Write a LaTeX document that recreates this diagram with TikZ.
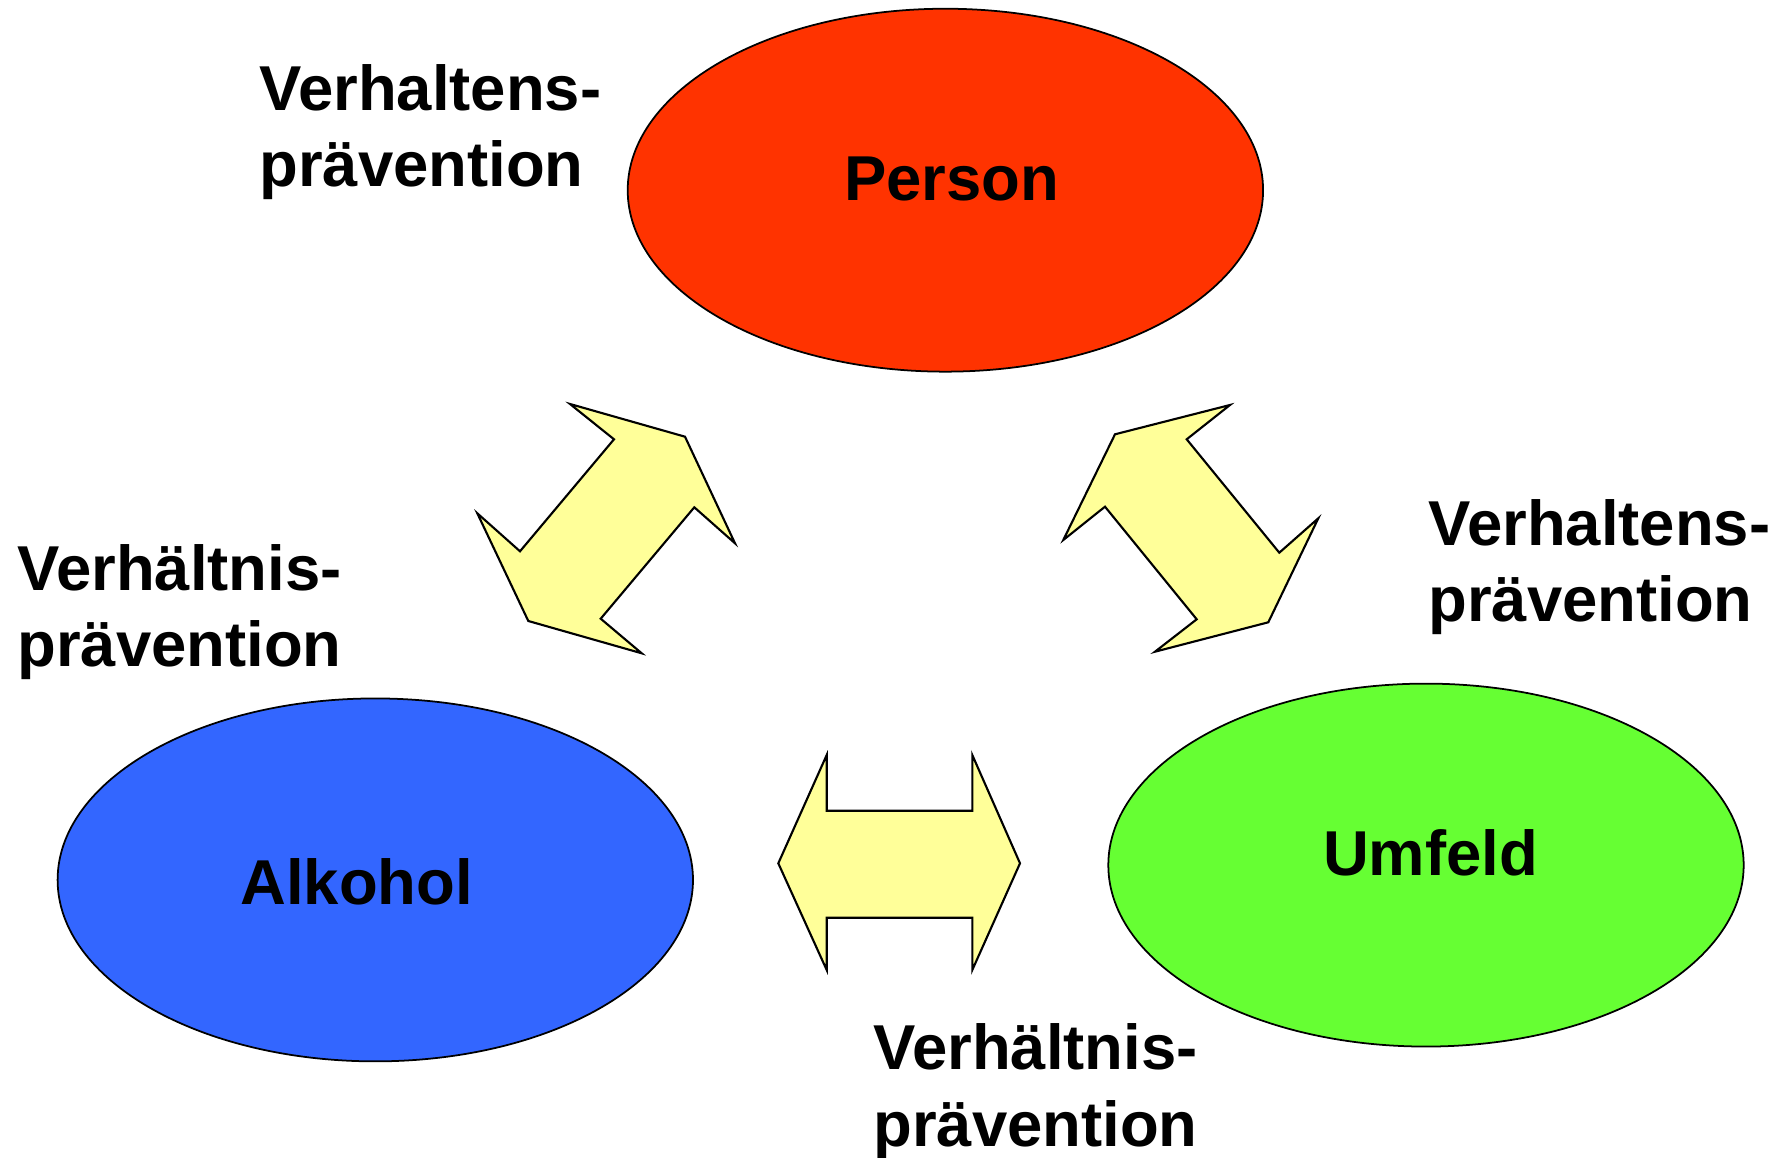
\documentclass[tikz,border=0pt]{standalone}
\usepackage{fontspec}
\setmainfont{Liberation Sans}
\usetikzlibrary{shapes.geometric}
\definecolor{personred}{HTML}{FF3300}
\definecolor{alkoholblue}{HTML}{3366FF}
\definecolor{umfeldgreen}{HTML}{66FF33}
\definecolor{arrowyellow}{HTML}{FFFF99}
\begin{document}
\begin{tikzpicture}[x=0.02cm, y=-0.02cm,
	blob/.style={ellipse, draw, line width=1pt, minimum width=12.71cm, minimum height=7.26cm, inner sep=0pt},
	word/.style={font=\fontsize{36.1}{43.8}\selectfont\bfseries, inner sep=0pt},
	caption/.style={word, align=left, anchor=base west},
	block/.style={draw, fill=arrowyellow, line width=1.2pt, line join=miter}]
	\useasboundingbox (0,0) rectangle (1786,1158);
	
	% Ellipses
	\node[blob, fill=personred] (person) at (945.4,190.2) {};
	\node[blob, fill=alkoholblue] (alkohol) at (375.3,879.9) {};
	\node[blob, fill=umfeldgreen] (umfeld) at (1426,865.1) {};
	\node[word, anchor=base] (personname) at (951.7,200.7) {Person};
	\node[word, anchor=base] (alkoholname) at (356.7,904.3) {Alkohol};
	\node[word, anchor=base] (umfeldname) at (1430.5,875) {Umfeld};
	
	% Labels (anchored at the baseline of the second line)
	\node[caption] (toplabel) at (259,187) {Verhaltens-\\prävention};
	\node[caption] (leftlabel) at (17,667) {Verhältnis-\\prävention};
	\node[caption] (rightlabel) at (1428,622) {Verhaltens-\\prävention};
	\node[caption] (bottomlabel) at (873,1146.5) {Verhältnis-\\prävention};
	
	% Arrows
	\draw[block] (570,404) -- (614,439.3) -- (520,551.3) -- (477.3,513.3) -- (528.3,621) -- (641.7,653.3) -- (600.7,618.7) -- (694.3,507.3) -- (735,543.3) -- (685,436.7) -- cycle;
	\draw[block] (1230,405) -- (1186.7,439.3) -- (1279.3,552.7) -- (1318.3,518.3) -- (1268.3,622.3) -- (1155,651.7) -- (1196.7,619.3) -- (1105,506.7) -- (1063.3,540) -- (1115,434.3) -- cycle;
	\draw[block] (778.3,863.3) -- (826.7,755) -- (826.7,810.7) -- (972.3,810.7) -- (972.3,755) -- (1020,863.3) -- (972.3,970) -- (972.3,917.7) -- (826.7,917.7) -- (826.7,970) -- cycle;
\end{tikzpicture}
\end{document}
